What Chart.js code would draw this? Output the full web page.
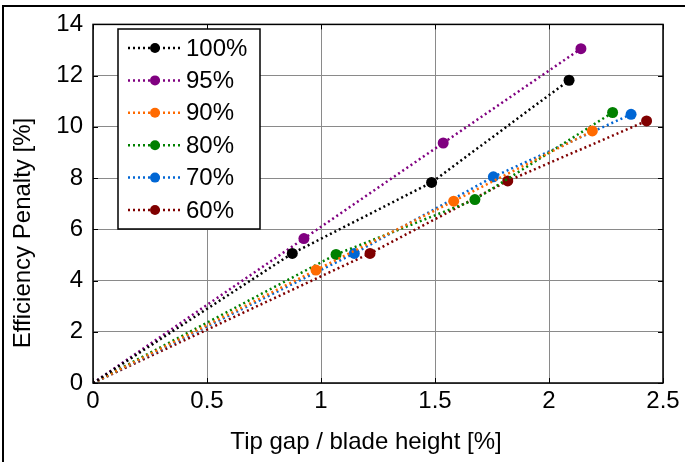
<!DOCTYPE html>
<html>
<head>
<meta charset="utf-8">
<script src="https://cdn.jsdelivr.net/npm/chart.js@4.4.1/dist/chart.umd.min.js"></script>
<style>
  html, body { margin: 0; padding: 0; background: #fff; }
  #wrap { width: 685px; height: 462px; position: relative; }
</style>
</head>
<body>
<div id="wrap"><canvas id="myChart"></canvas></div>
<script>
// tip gap / blade height [%] and efficiency penalty [%] for each load case
var seriesNames = ['100%', '95%', '90%', '80%', '70%', '60%'];
var seriesColors = ['#000000', '#800080', '#ff6a00', '#008000', '#0066d4', '#800000'];

var gap100 = [0, 0.874, 1.485, 2.088];
var eff100 = [0, 5.06, 7.83, 11.82];
var gap95 = [0, 0.925, 1.536, 2.14];
var eff95 = [0, 5.64, 9.37, 13.05];
var gap90 = [0, 0.978, 1.582, 2.19];
var eff90 = [0, 4.41, 7.10, 9.84];
var gap80 = [0, 1.066, 1.675, 2.279];
var eff80 = [0, 5.02, 7.16, 10.56];
var gap70 = [0, 1.146, 1.756, 2.36];
var eff70 = [0, 5.06, 8.05, 10.49];
var gap60 = [0, 1.215, 1.819, 2.428];
var eff60 = [0, 5.06, 7.89, 10.23];

var xTicks = [0, 0.5, 1, 1.5, 2, 2.5];
var yTicks = [0, 2, 4, 6, 8, 10, 12, 14];

var xTitle = 'Tip gap / blade height [%]';
var yTitle = 'Efficiency Penalty [%]';

var gaps = [gap100, gap95, gap90, gap80, gap70, gap60];
var effs = [eff100, eff95, eff90, eff80, eff70, eff60];

function points(xs, ys) {
    return xs.map(function (x, i) { return { x: x, y: ys[i] }; });
}

var datasets = seriesNames.map(function (name, i) {
    return {
        label: name,
        data: points(gaps[i], effs[i]),
        borderColor: seriesColors[i],
        backgroundColor: seriesColors[i],
        borderWidth: 2.5,
        borderDash: [2, 3],
        pointRadius: function (c) { return c.dataIndex === 0 ? 0 : 5.5; },
        pointBorderWidth: 0,
        tension: 0
    };
});

var FONT = 'Liberation Sans, Arial, sans-serif';

// box, inward ticks, axis titles, legend and the outer frame lines
var matlabBox = {
    id: 'matlabBox',
    afterDraw: function (chart) {
        var c = chart.ctx, a = chart.chartArea;
        var sx = chart.scales.x, sy = chart.scales.y;
        c.save();
        c.strokeStyle = '#000';
        c.lineWidth = 1.5;
        c.strokeRect(a.left, a.top, a.right - a.left, a.bottom - a.top);
        c.lineWidth = 1;
        c.beginPath();
        xTicks.forEach(function (v) {
            var px = Math.round(sx.getPixelForValue(v)) + 0.5;
            c.moveTo(px, a.bottom); c.lineTo(px, a.bottom - 5);
            c.moveTo(px, a.top); c.lineTo(px, a.top + 5);
        });
        yTicks.forEach(function (v) {
            var py = Math.round(sy.getPixelForValue(v)) + 0.5;
            c.moveTo(a.left, py); c.lineTo(a.left + 5, py);
            c.moveTo(a.right, py); c.lineTo(a.right - 5, py);
        });
        c.stroke();

        // axis titles
        c.fillStyle = '#000';
        c.font = '24px ' + FONT;
        c.textAlign = 'center';
        c.textBaseline = 'middle';
        c.fillText(xTitle, 366, 442);
        c.save();
        c.translate(23, 233);
        c.rotate(-Math.PI / 2);
        c.fillText(yTitle, 0, 0);
        c.restore();

        // legend
        var lx = 118, ly = 29, lw = 142, lh = 200;
        c.fillStyle = '#fff';
        c.fillRect(lx, ly, lw, lh);
        c.strokeStyle = '#000';
        c.lineWidth = 1.5;
        c.strokeRect(lx, ly, lw, lh);
        chart.data.datasets.forEach(function (ds, i) {
            var y = 48 + i * 32.4;
            c.strokeStyle = ds.borderColor;
            c.lineWidth = 2.5;
            c.setLineDash([2, 3]);
            c.beginPath();
            c.moveTo(128, y); c.lineTo(181, y);
            c.stroke();
            c.setLineDash([]);
            c.fillStyle = ds.borderColor;
            c.beginPath();
            c.arc(155, y, 5, 0, Math.PI * 2);
            c.fill();
            c.fillStyle = '#000';
            c.font = '24px ' + FONT;
            c.textBaseline = 'middle';
            c.textAlign = 'left';
            c.fillText(ds.label, 186, y + 1);
        });

        // outer figure frame (top and left)
        c.strokeStyle = '#000';
        c.lineWidth = 2;
        c.beginPath();
        c.moveTo(3, 462); c.lineTo(3, 6); c.lineTo(685, 6);
        c.stroke();
        c.restore();
    }
};

var ctx = document.getElementById('myChart');
var myChart = new Chart(ctx, {
    type: 'line',
    data: { datasets: datasets },
    options: {
        responsive: true,
        maintainAspectRatio: false,
        animation: false,
        layout: { padding: { left: 0, top: 24, right: 22, bottom: 0 } },
        plugins: {
            legend: { display: false },
            tooltip: { enabled: false }
        },
        scales: {
            x: {
                type: 'linear',
                min: 0,
                max: 2.5,
                afterBuildTicks: function (s) { s.ticks = xTicks.map(function (v) { return { value: v }; }); },
                afterFit: function (s) { s.height = 79; },
                ticks: {
                    color: '#000',
                    font: { family: FONT, size: 24 },
                    padding: 4,
                    maxRotation: 0,
                    callback: function (v) { return String(v); }
                },
                grid: { color: '#8a8a8a', borderDash: [2, 1], drawTicks: false },
                border: { display: false }
            },
            y: {
                type: 'linear',
                min: 0,
                max: 14,
                afterBuildTicks: function (s) { s.ticks = yTicks.map(function (v) { return { value: v }; }); },
                afterFit: function (s) { s.width = 93; },
                ticks: {
                    color: '#000',
                    font: { family: FONT, size: 24 },
                    padding: 10
                },
                grid: { color: '#8a8a8a', borderDash: [2, 1], drawTicks: false },
                border: { display: false }
            }
        }
    },
    plugins: [matlabBox]
});
</script>
</body>
</html>
